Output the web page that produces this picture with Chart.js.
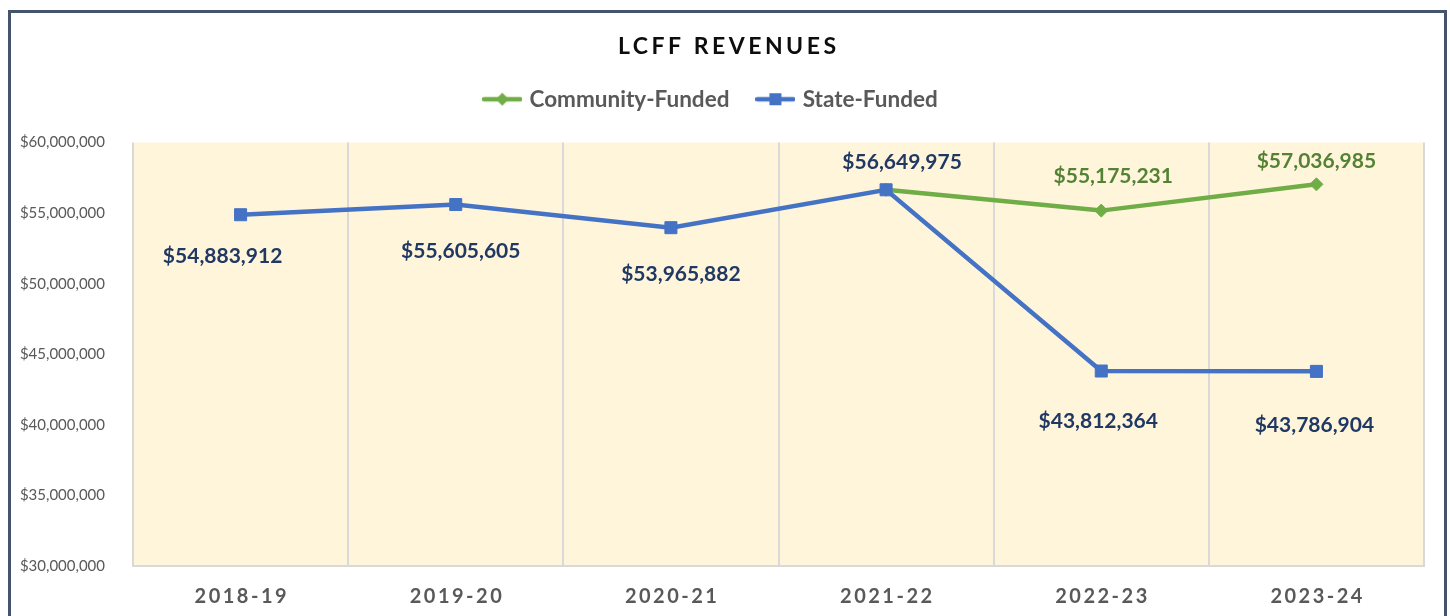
<!DOCTYPE html>
<html>
<head>
<meta charset="utf-8">
<title>LCFF Revenues</title>
<script src="https://cdn.jsdelivr.net/npm/chart.js@4.4.1/dist/chart.umd.min.js"></script>
<style>
  html, body { margin: 0; padding: 0; background: #fff; }
  #wrap { position: relative; width: 1450px; height: 616px; overflow: hidden; }
</style>
</head>
<body>
<div id="wrap"><canvas id="revenueChart" width="1450" height="616"></canvas></div>
<script>
// values
const years = ['2018-19', '2019-20', '2020-21', '2021-22', '2022-23', '2023-24'];
const communityFunded = [null, null, null, 56649975, 55175231, 57036985];
const stateFunded = [54883912, 55605605, 53965882, 56649975, 43812364, 43786904];
const yTicks = [30000000, 35000000, 40000000, 45000000, 50000000, 55000000, 60000000];

// where each value label sits relative to its point (null = no label)
const communityLabelShift = [null, null, null, null, [12, -35], [0, -24]];
const stateLabelShift = [[-18, 41], [5, 46], [10, 46], [16, -28], [-3, 49], [-2, 53]];

const GREEN = '#70AD47';
const BLUE = '#4472C4';
const GREEN_TEXT = '#548235';
const BLUE_TEXT = '#203864';
const GREY_TEXT = '#595959';
const FONT = 'Lato, "Open Sans", sans-serif';

// little line + marker picture used in the legend
function legendIcon(color, shape) {
    const c = document.createElement('canvas');
    c.width = 40;
    c.height = 16;
    const g = c.getContext('2d');
    g.strokeStyle = color;
    g.lineWidth = 4.5;
    g.lineCap = 'round';
    g.beginPath();
    g.moveTo(2, 8);
    g.lineTo(38, 8);
    g.stroke();
    g.fillStyle = color;
    if (shape === 'diamond') {
        g.beginPath();
        g.moveTo(20, 1.5);
        g.lineTo(26.5, 8);
        g.lineTo(20, 14.5);
        g.lineTo(13.5, 8);
        g.closePath();
        g.fill();
    } else {
        g.fillRect(14, 2, 12, 12);
    }
    return c;
}

function spacedText(ctx, text, x, y, spacing) {
    // canvas letterSpacing adds a trailing gap, so nudge centred text back
    ctx.letterSpacing = spacing + 'px';
    ctx.fillText(text, x + spacing / 2, y);
    ctx.letterSpacing = '0px';
}

function drawValueLabels(chart, dsIndex, shifts, color) {
    const ctx = chart.ctx;
    const meta = chart.getDatasetMeta(dsIndex);
    const values = chart.data.datasets[dsIndex].data;
    ctx.fillStyle = color;
    meta.data.forEach((pt, i) => {
        const s = shifts[i];
        if (!s || values[i] == null) return;
        ctx.fillText('$' + values[i].toLocaleString('en-US'), pt.x + s[0], pt.y + s[1] + 7.5);
    });
}

// make room between the legend and the plot
const legendGap = {
    id: 'legendGap',
    afterInit(chart) {
        const fit = chart.legend.fit;
        chart.legend.fit = function () {
            fit.call(this);
            this.height += 22;
        };
    }
};

const decorations = {
    id: 'decorations',
    beforeDraw(chart) {
        const {ctx, chartArea} = chart;
        ctx.save();
        ctx.fillStyle = '#FFF5DB';
        ctx.fillRect(chartArea.left, chartArea.top, chartArea.right - chartArea.left, chartArea.bottom - chartArea.top);
        ctx.restore();
    },
    afterDatasetsDraw(chart) {
        const ctx = chart.ctx;
        ctx.save();
        ctx.font = 'bold 21px ' + FONT;
        ctx.textAlign = 'center';
        ctx.textBaseline = 'alphabetic';
        drawValueLabels(chart, 0, communityLabelShift, GREEN_TEXT);
        drawValueLabels(chart, 1, stateLabelShift, BLUE_TEXT);
        ctx.restore();
    },
    afterDraw(chart) {
        const ctx = chart.ctx;
        const x = chart.scales.x;
        ctx.save();
        ctx.textAlign = 'center';
        ctx.textBaseline = 'alphabetic';

        // title
        ctx.fillStyle = '#0D0D0D';
        ctx.font = 'bold 23px ' + FONT;
        spacedText(ctx, 'LCFF REVENUES', 727, 54, 3.5);

        // category labels
        ctx.fillStyle = GREY_TEXT;
        ctx.font = 'bold 20px ' + FONT;
        years.forEach((y, i) => spacedText(ctx, y, x.getPixelForTick(i), 603, 2.5));

        // outer frame
        ctx.strokeStyle = '#44546A';
        ctx.lineWidth = 3;
        ctx.strokeRect(9.5, 11.5, 1436, 700);
        ctx.restore();
    }
};

function makeChart() {
    const icons = [legendIcon(GREEN, 'diamond'), legendIcon(BLUE, 'square')];
    const ctx = document.getElementById('revenueChart').getContext('2d');
    new Chart(ctx, {
        type: 'line',
        data: {
            labels: years,
            datasets: [{
                label: 'Community-Funded',
                data: communityFunded,
                borderColor: GREEN,
                backgroundColor: GREEN,
                borderWidth: 4.5,
                pointStyle: 'rectRot',
                pointRadius: 6.5,
                pointBorderWidth: 1,
                pointBackgroundColor: GREEN,
                pointBorderColor: GREEN,
                order: 1
            }, {
                label: 'State-Funded',
                data: stateFunded,
                borderColor: BLUE,
                backgroundColor: BLUE,
                borderWidth: 4.5,
                pointStyle: 'rect',
                pointRadius: 8.5,
                pointBorderWidth: 1,
                pointBackgroundColor: BLUE,
                pointBorderColor: BLUE,
                order: 0
            }]
        },
        options: {
            responsive: false,
            animation: false,
            devicePixelRatio: 1,
            events: [],
            layout: {
                padding: {top: 58, left: 0, right: 26, bottom: 0}
            },
            scales: {
                x: {
                    offset: true,
                    grid: {offset: true, color: '#D9D9D9', lineWidth: 2, drawTicks: false},
                    border: {display: true, color: '#D9D9D9', width: 2},
                    ticks: {display: false},
                    afterFit(scale) { scale.height = 50; }
                },
                y: {
                    min: 30000000,
                    max: 60000000,
                    grid: {display: false},
                    border: {display: false},
                    afterBuildTicks(scale) { scale.ticks = yTicks.map(v => ({value: v})); },
                    afterFit(scale) { scale.width = 133; },
                    ticks: {
                        padding: 20,
                        color: GREY_TEXT,
                        font: {family: FONT, size: 15},
                        callback: v => '$' + v.toLocaleString('en-US')
                    }
                }
            },
            plugins: {
                title: {display: false},
                tooltip: {enabled: false},
                legend: {
                    position: 'top',
                    labels: {
                        usePointStyle: true,
                        pointStyleWidth: 32,
                        padding: 30,
                        color: GREY_TEXT,
                        font: {family: FONT, size: 22.5, weight: 'bold'},
                        sort: (a, b) => a.datasetIndex - b.datasetIndex,
                        generateLabels(chart) {
                            const items = Chart.defaults.plugins.legend.labels.generateLabels(chart);
                            items.forEach(it => {
                                it.pointStyle = icons[it.datasetIndex];
                                it.fontColor = GREY_TEXT;
                            });
                            return items;
                        }
                    }
                }
            }
        },
        plugins: [legendGap, decorations]
    });
}

Promise.all([
    document.fonts.load('bold 20px Lato'),
    document.fonts.load('15px Lato')
]).catch(() => {}).finally(makeChart);
</script>
</body>
</html>
